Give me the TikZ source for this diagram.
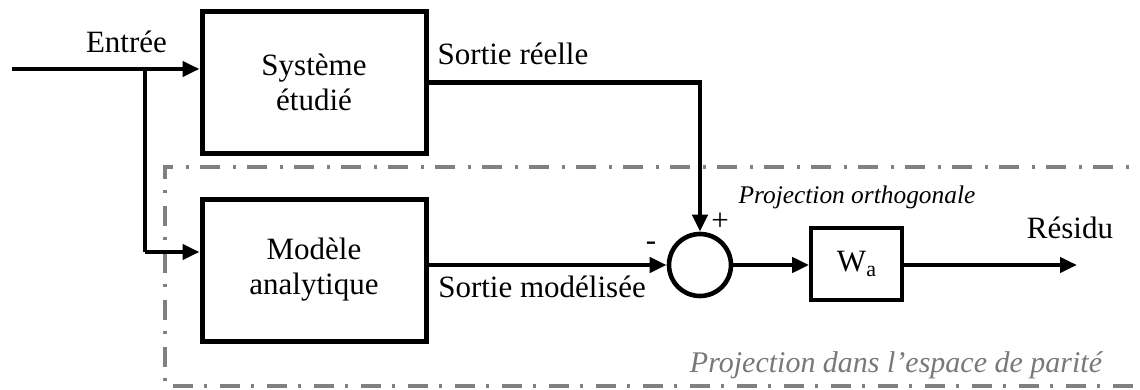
\documentclass[tikz,border=0pt]{standalone}
\usepackage{fontspec}
\setmainfont{Liberation Serif}
\usetikzlibrary{arrows.meta}
\definecolor{framegray}{RGB}{128,128,128}
\definecolor{notegray}{RGB}{120,120,120}
\tikzset{
  blockbox/.style={draw, line width=2.5pt, minimum width=112pt, minimum height=70.5pt,
    align=center, inner sep=0pt, font=\fontsize{15.5}{17.5}\selectfont},
  gainbox/.style={draw, line width=1.9pt, minimum width=45.5pt, minimum height=36pt,
    inner sep=0pt, font=\fontsize{15.5}{18}\selectfont},
  sumnode/.style={draw, circle, line width=2.3pt, minimum size=31pt, inner sep=0pt},
  wire/.style={line width=2.1pt},
  flow/.style={wire, -{Triangle[length=8.5pt,width=7.5pt]}},
  lbl/.style={inner sep=0pt, anchor=base, font=\fontsize{15.5}{18}\selectfont},
  note/.style={inner sep=0pt, anchor=base, font=\fontsize{12.7}{15}\itshape\selectfont},
  framebox/.style={draw=framegray, line width=2.3pt,
    dash pattern=on 10pt off 5.3pt on 1.7pt off 6.5pt},
}
\begin{document}
\begin{tikzpicture}[x=0.5pt,y=-0.5pt]
  \useasboundingbox (0,0) rectangle (1140,390);

  % parity-space frame, open on the right
  \draw[framebox] (1160,167) -- (165,167) -- (165,386) -- (1160,386);
  \node[lbl, font=\fontsize{15}{18}\itshape\selectfont, text=notegray]
    (parity) at (896,372) {Projection dans l’espace de parité};

  % blocks
  \node[blockbox] (sys) at (314,82.5) {Système\\étudié};
  \node[blockbox, minimum height=71pt] (mod) at (314,270) {Modèle\\analytique};
  \node[sumnode] (sum) at (700,265) {};
  \node[gainbox] (wa) at (856.5,264) {W\raisebox{-0.35ex}{\fontsize{11}{12}\selectfont a}};

  % input and its branch to the model
  \coordinate (in) at (12,69);
  \coordinate (split) at (145,69);
  \coordinate (corner) at (145,252);
  \draw[flow] (in) -- (sys.west |- in);
  \draw[wire] (split) -- (corner);
  \draw[flow] (corner) -- (mod.west |- corner);
  \node[lbl] (entree) at (126.5,53) {Entrée};

  % real output down to the summing junction
  \coordinate (bend) at (sum.north |- sys.east);
  \draw[flow] (sys.east) -- (bend) -- (sum.north);
  \node[lbl] (sreal) at (513,65) {Sortie réelle};

  % modelled output into the summing junction
  \draw[flow] (mod.east |- sum.west) -- (sum.west);
  \node[lbl] (smod) at (542,297) {Sortie modélisée};
  \node[lbl] (minus) at (651,250) {-};
  \node[lbl] (plus) at (720,230) {+};

  % residual path
  \coordinate (out) at (1077,265);
  \draw[flow] (sum.east) -- (wa.west |- sum.east);
  \draw[flow] (wa.east |- out) -- (out);
  \node[lbl] (res) at (1070,238) {Résidu};
  \node[note] (proj) at (857,203) {Projection orthogonale};
\end{tikzpicture}
\end{document}
